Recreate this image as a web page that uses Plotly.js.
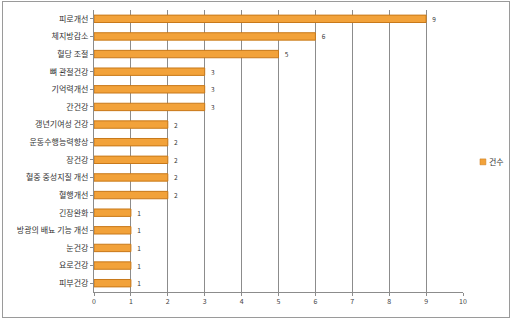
<!DOCTYPE html>
<html><head><meta charset="utf-8">
<script src="https://cdn.plot.ly/plotly-3.0.1.min.js"></script>
<style>
html,body{margin:0;padding:0;background:#fff;}
#wrap{position:relative;width:512px;height:322px;}
#chart{width:512px;height:322px;}
#frame{position:absolute;left:2px;top:1px;width:506px;height:315px;border:1px solid #9a9a9a;pointer-events:none;}
</style></head>
<body><div id="wrap"><div id="chart"></div><div id="frame"></div></div>
<script>
const categories = ["피로개선","체지방감소","혈당 조절","뼈 관절건강","기억력개선","간건강","갱년기여성 건강","운동수행능력향상","장건강","혈중 중성지질 개선","혈행개선","긴장완화","방광의 배뇨 기능 개선","눈건강","요로건강","피부건강"];
const counts = [9,6,5,3,3,3,2,2,2,2,2,1,1,1,1,1];
const seriesName = "건수";
const xTicks = [0,1,2,3,4,5,6,7,8,9,10];

const font = "Noto Sans CJK KR, Noto Sans, sans-serif";
const barColor = '#F2A23A', barLine = '#C8791A';
Plotly.newPlot('chart', [{
  type:'bar', orientation:'h', name:seriesName,
  y:categories, x:counts,
  text:counts.map(v => '\u2002' + v), textposition:'outside', cliponaxis:false,
  constraintext:'none',
  textfont:{size:6.5,color:'#333',family:font},
  marker:{color:barColor, line:{color:barLine, width:1}},
  width:0.42
}], {
  width:512, height:322,
  margin:{l:94, r:49, t:10, b:30, autoexpand:false},
  paper_bgcolor:'#fff', plot_bgcolor:'#fff',
  showlegend:false,
  shapes:[{type:'rect', xref:'paper', yref:'paper', x0:1.046, x1:1.062, y0:0.451, y1:0.472,
           fillcolor:barColor, line:{color:barLine,width:0.5}}],
  annotations:[{xref:'paper', yref:'paper', x:1.066, y:0.461, xanchor:'left', yanchor:'middle',
                text:seriesName, showarrow:false, font:{size:8,family:font,color:'#333'}}],
  xaxis:{range:[0,10], tickvals:xTicks, showgrid:true, gridcolor:'#8c8c8c', gridwidth:1,
         tickfont:{size:7,family:font,color:'#444'}, showline:true, linecolor:'#8c8c8c',
         ticks:'outside', ticklen:3, tickcolor:'#8c8c8c', zeroline:false, fixedrange:true},
  yaxis:{autorange:'reversed', type:'category', tickfont:{size:8,family:font,color:'#333'},
         showline:true, linecolor:'#8c8c8c', ticks:'outside', ticklen:3, tickcolor:'#8c8c8c',
         showgrid:false, fixedrange:true},
  bargap:0.6
}, {displayModeBar:false, staticPlot:true});
</script></body></html>
